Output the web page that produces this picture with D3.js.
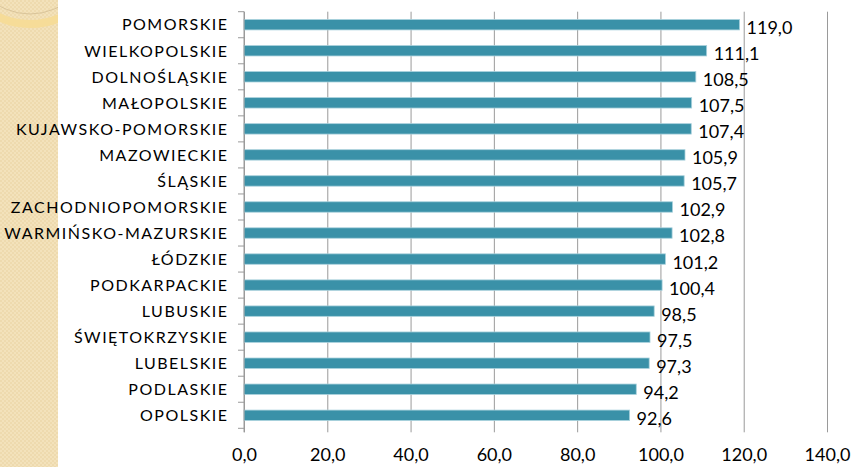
<!DOCTYPE html>
<html>
<head>
<meta charset="utf-8">
<script src="https://cdn.jsdelivr.net/npm/d3@7"></script>
<style>
  html, body { margin: 0; padding: 0; background: #ffffff; }
  svg { display: block; }
</style>
</head>
<body>
<svg id="chart" width="852" height="467"></svg>
<script>
// Voivodeships, top to bottom, with their index values
const regions = [
  "POMORSKIE", "WIELKOPOLSKIE", "DOLNOŚLĄSKIE", "MAŁOPOLSKIE",
  "KUJAWSKO-POMORSKIE", "MAZOWIECKIE", "ŚLĄSKIE", "ZACHODNIOPOMORSKIE",
  "WARMIŃSKO-MAZURSKIE", "ŁÓDZKIE", "PODKARPACKIE", "LUBUSKIE",
  "ŚWIĘTOKRZYSKIE", "LUBELSKIE", "PODLASKIE", "OPOLSKIE"
];
const values = [
  119.0, 111.1, 108.5, 107.5, 107.4, 105.9, 105.7, 102.9,
  102.8, 101.2, 100.4, 98.5, 97.5, 97.3, 94.2, 92.6
];
const xTicks = [0, 20, 40, 60, 80, 100, 120, 140];

(function draw() {
  const svg = d3.select("#chart");
  const W = 852, H = 467;
  const fmt = v => d3.format(".1f")(v).replace(".", ",");
  const FONT = "Lato, 'Open Sans', sans-serif";

  // Decorative side strip with a fine checker texture
  const defs = svg.append("defs");
  const pat = defs.append("pattern")
    .attr("id", "checks").attr("width", 4).attr("height", 4)
    .attr("patternUnits", "userSpaceOnUse");
  pat.append("rect").attr("width", 4).attr("height", 4).attr("fill", "#f3e2bb");
  pat.append("rect").attr("width", 2).attr("height", 2).attr("fill", "#eedaae");
  pat.append("rect").attr("x", 2).attr("y", 2).attr("width", 2).attr("height", 2).attr("fill", "#eedaae");
  defs.append("clipPath").attr("id", "stripClip")
    .append("rect").attr("width", 58).attr("height", H);

  const strip = svg.append("g").attr("clip-path", "url(#stripClip)");
  strip.append("rect").attr("width", 58).attr("height", H).attr("fill", "url(#checks)");
  strip.append("circle").attr("cx", 30).attr("cy", -48).attr("r", 72)
    .attr("fill", "none").attr("stroke", "#f6dc98").attr("stroke-width", 8);
  strip.append("circle").attr("cx", 30).attr("cy", -48).attr("r", 62)
    .attr("fill", "none").attr("stroke", "#d9c49a").attr("stroke-width", 1);

  // Plot area
  const pLeft = 244, pRight = 827, pTop = 11.7, pBottom = 428.3;

  const x = d3.scaleLinear().domain([0, 140]).range([pLeft, pRight]);
  const y = d3.scaleBand().domain(regions).range([pTop, pBottom]).padding(0);
  const bw = y.bandwidth();

  // Vertical gridlines with tick labels
  const xAxis = svg.append("g")
    .attr("transform", `translate(0,${pBottom})`)
    .call(d3.axisBottom(x).tickValues(xTicks).tickFormat(fmt)
      .tickSizeInner(-(pBottom - pTop)).tickSizeOuter(0));
  xAxis.select(".domain").remove();
  xAxis.selectAll(".tick line")
    .attr("stroke", "#9a9a9a").attr("stroke-width", 1)
    .attr("y2", -(pBottom - pTop)).attr("y1", 4);
  xAxis.selectAll(".tick text")
    .attr("y", 33).attr("dy", 0)
    .attr("fill", "#000").attr("font-family", FONT)
    .attr("font-size", 18);

  // Bars
  svg.append("g").selectAll("rect")
    .data(values)
    .join("rect")
    .attr("x", x(0))
    .attr("y", (d, i) => y(regions[i]) + bw * 0.3)
    .attr("width", d => x(d) - x(0))
    .attr("height", bw * 0.4)
    .attr("fill", "#3a91a8")
    .attr("stroke", "#a9d1dc")
    .attr("stroke-width", 0.8);

  // Category axis with tick marks on band boundaries
  const yAxis = svg.append("g").attr("transform", `translate(${pLeft},0)`);
  yAxis.append("line")
    .attr("x1", 0).attr("x2", 0).attr("y1", pTop).attr("y2", pBottom + 4)
    .attr("stroke", "#9a9a9a");
  yAxis.selectAll("line.tk")
    .data(d3.range(regions.length + 1))
    .join("line").attr("class", "tk")
    .attr("x1", -6).attr("x2", 0)
    .attr("y1", i => pTop + i * bw).attr("y2", i => pTop + i * bw)
    .attr("stroke", "#9a9a9a");

  svg.append("g").selectAll("text")
    .data(regions)
    .join("text")
    .attr("x", 228.5)
    .attr("y", d => y(d) + bw / 2)
    .attr("dy", "0.36em")
    .attr("text-anchor", "end")
    .attr("font-family", FONT)
    .attr("font-size", 16)
    .attr("letter-spacing", 1.5)
    .attr("fill", "#000")
    .text(d => d);

  // Value labels
  svg.append("g").selectAll("text")
    .data(values)
    .join("text")
    .attr("x", d => x(d) + 7)
    .attr("y", (d, i) => y(regions[i]) + bw / 2 + 3)
    .attr("dy", "0.36em")
    .attr("font-family", FONT)
    .attr("font-size", 18)
    .attr("fill", "#000")
    .text(fmt);
})();
</script>
</body>
</html>
